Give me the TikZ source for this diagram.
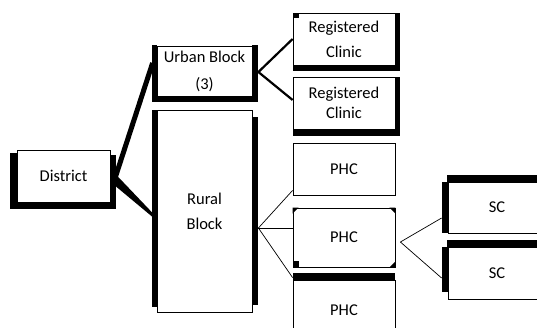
\documentclass[tikz,border=0pt]{standalone}
\usepackage{fontspec}
\setmainfont{Carlito}
\begin{document}
\begin{tikzpicture}[x=1pt,y=-1pt,
  box/.style={draw=black, line width=0.8pt, fill=white, inner sep=0pt,
    align=center, font=\fontsize{16.5}{25}\selectfont},
  bar/.style={fill=black},
  thin link/.style={draw=black, line width=0.7pt},
  mid link/.style={draw=black, line width=2.2pt},
  thick link/.style={draw=black, line width=5pt},
]
\useasboundingbox (0,0) rectangle (537,327);
\clip (0,0) rectangle (537,327);
\fill[white] (0,0) rectangle (537,327);

% ---- boxes ----
\node[box, minimum width=93, minimum height=52] (dist) at (63.5,176) {District};
\node[box, minimum width=95, minimum height=50,
      font=\fontsize{16.5}{27}\selectfont] (urban) at (204.5,71) {Urban Block\\(3)};
\node[box, minimum width=95, minimum height=202] (rural) at (204.5,211) {Rural\\Block};
\node[box, minimum width=102, minimum height=52] (rc1) at (344,39) {Registered\\Clinic};
\node[box, minimum width=102, minimum height=52,
      font=\fontsize{16.5}{20}\selectfont] (rc2) at (344,103) {Registered\\Clinic};
\node[box, minimum width=102, minimum height=52] (phc1) at (344,169) {PHC};
\node[box, minimum width=102, minimum height=59] (phc2) at (344,237.5) {PHC};
\node[box, minimum width=102, minimum height=60] (phc3) at (344,310) {PHC};
\node[box, minimum width=98, minimum height=51] (sc1) at (497,207.5) {SC};
\node[box, minimum width=98, minimum height=52] (sc2) at (497,273) {SC};

% ---- heavy edges on the boxes ----
% District
\fill[bar] ([shift={(-7,3)}]dist.north west) rectangle ([shift={(0,7)}]dist.south west);
\fill[bar] ([shift={(-4,0)}]dist.south west) rectangle ([shift={(6,7)}]dist.south east);
\fill[bar] ([shift={(0,5)}]dist.north east) rectangle ([shift={(6,0)}]dist.south east);
% Urban Block
\fill[bar] ([shift={(-5,-1)}]urban.north west) rectangle ([shift={(0,6)}]urban.south west);
\fill[bar] ([shift={(0,-1)}]urban.north east) rectangle ([shift={(6,6)}]urban.south east);
\fill[bar] (urban.south west) rectangle ([shift={(0,6)}]urban.south east);
% Rural Block
\fill[bar] ([shift={(-5,0)}]rural.north west) rectangle ([shift={(0,-5)}]rural.south west);
\fill[bar] ([shift={(0,7)}]rural.north east) rectangle ([shift={(6,-7)}]rural.south east);
% Registered Clinics
\fill[bar] (rc1.north east) rectangle ([shift={(5,6)}]rc1.south east);
\fill[bar] (rc1.south west) rectangle ([shift={(0,6)}]rc1.south east);
\fill[bar] (rc1.north west) rectangle ([shift={(6,5)}]rc1.north west);
\fill[bar] (rc2.north east) rectangle ([shift={(5,7)}]rc2.south east);
\fill[bar] (rc2.south west) rectangle ([shift={(0,7)}]rc2.south east);
% PHC corners and top edge
\fill[bar] (phc2.north west) -- ++(6,0) -- ++(-6,6) -- cycle;
\fill[bar] (phc2.north east) -- ++(-6,0) -- ++(6,6) -- cycle;
\fill[bar] (phc2.south west) rectangle ++(6,-6);
\fill[bar] (phc2.south east) -- ++(-6,0) -- ++(6,-6) -- cycle;
\fill[bar] ([shift={(0,-7)}]phc3.north west) rectangle (phc3.north east);
% SC
\fill[bar] ([shift={(-1,-7)}]sc1.north west) rectangle (sc1.north east);
\fill[bar] ([shift={(-6,0)}]sc1.north west) rectangle (sc1.south west);
\fill[bar] ([shift={(-1,-7)}]sc2.north west) rectangle (sc2.north east);
\fill[bar] ([shift={(-6,0)}]sc2.north west) rectangle ([shift={(0,-7)}]sc2.south west);

% ---- connectors ----
\draw[thick link] ([shift={(5,1)}]dist.east) -- ([shift={(-4,-8)}]urban.west);
\fill[black] ([shift={(5,-2)}]dist.east) -- ([shift={(-4,2)}]rural.west)
  -- ([shift={(-4,6)}]rural.west) -- ([shift={(5,10)}]dist.east) -- cycle;

\coordinate (ur) at ([shift={(6,1)}]urban.east);
\draw[mid link] (ur) -- (rc1.west);
\draw[mid link] (ur) -- ([shift={(0,-3)}]rc2.west);

\coordinate (rr) at ([shift={(6,17)}]rural.east);
\draw[thin link] (rr) -- ([shift={(0,-5)}]phc1.south west);
\draw[thin link] (rr) -- ([shift={(0,-9.5)}]phc2.west);
\draw[thin link] (rr) -- ([shift={(0,-2)}]phc3.north west);

\coordinate (pr) at ([shift={(5,4.5)}]phc2.east);
\draw[thin link] (pr) -- ([shift={(-6,10.5)}]sc1.west);
\draw[thin link] (pr) -- ([shift={(-6,5)}]sc2.west);
\end{tikzpicture}
\end{document}
